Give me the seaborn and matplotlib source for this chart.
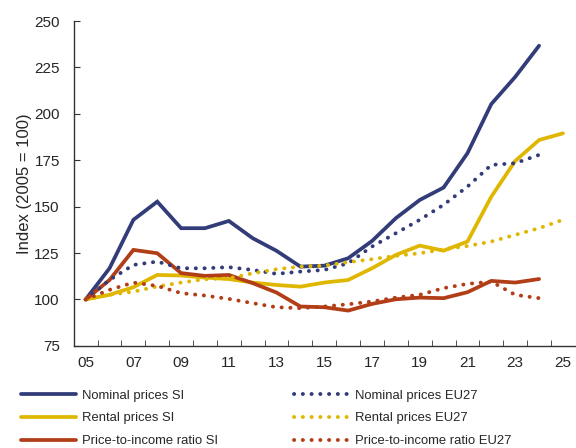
import matplotlib

matplotlib.use("Agg")
import matplotlib.pyplot as plt
import numpy as np
import pandas as pd
import seaborn as sns

years = list(range(2005, 2026))

nominal_si = [100, 116.8, 142.9, 152.7, 138.4, 138.4, 142.3, 133, 126.2, 117.7,
              118.2, 122.2, 131.5, 143.8, 153.6, 160.3, 178.8, 205.3, 219.9, 236.7, None]
rental_si = [100, 102.5, 106.6, 113.2, 112.9, 111.8, 111, 109.1, 107.8, 106.9,
             109.1, 110.5, 116.8, 124, 129, 126.3, 131.2, 155.4, 174.6, 185.9, 189.5]
pti_si = [100, 110.5, 126.7, 124.9, 114.2, 112.7, 113.2, 108.8, 103.7, 96.2,
          95.8, 94, 97.6, 100.1, 101, 100.7, 103.9, 110, 109.1, 111, None]
nominal_eu = [100, 110.5, 118.6, 120.4, 116.8, 116.8, 117.4, 115.9, 113.8, 115,
              115.9, 119.5, 128.5, 135.7, 142.9, 151, 160.8, 172.5, 173.4, 177.9, None]
rental_eu = [100, 102.5, 104.2, 107, 109.1, 110.9, 111.4, 114.1, 116.3, 117.7,
             118.2, 120.1, 121.7, 123.5, 124.9, 127, 128.8, 131.2, 134.8, 138.4, 142.9]
pti_eu = [100, 105.2, 109.1, 107.3, 103.4, 102.1, 100.3, 98, 95.8, 95.3,
          96.2, 97.4, 98.9, 101, 102.5, 106.1, 108.4, 109.6, 102.5, 100.7, None]

series = [
    ("Nominal prices SI", nominal_si, "#323C78", "solid"),
    ("Rental prices SI", rental_si, "#E0B700", "solid"),
    ("Price-to-income ratio SI", pti_si, "#B23E18", "solid"),
    ("Nominal prices EU27", nominal_eu, "#323C78", "dotted"),
    ("Rental prices EU27", rental_eu, "#E0B700", "dotted"),
    ("Price-to-income ratio EU27", pti_eu, "#B23E18", "dotted"),
]

sns.set_style("ticks")
plt.rcParams["font.family"] = ["Liberation Sans", "DejaVu Sans"]

fig = plt.figure(figsize=(5.76, 4.48), dpi=100)
ax = fig.add_axes([0.128, 0.228, 0.87, 0.725])

for label, values, color, kind in series:
    df = pd.DataFrame({"year": years, "value": np.array(values, dtype=float)}).dropna()
    if kind == "solid":
        sns.lineplot(data=df, x="year", y="value", color=color, lw=2.7,
                     label=label, ax=ax, solid_joinstyle="miter")
    else:
        sns.lineplot(data=df, x="year", y="value", color=color, lw=2.8,
                     label=label, ax=ax, linestyle=(0, (0.05, 2.2)),
                     dash_capstyle="round")

ax.set_xlim(2004.5, 2025.5)
ax.set_ylim(75, 250)
ax.set_yticks(np.arange(75, 251, 25))
ax.set_xticks(years[::2])
ax.set_xticklabels([f"{y % 100:02d}" for y in years[::2]])
ax.set_xticks(np.arange(2005.5, 2025, 1), minor=True)
ax.tick_params(axis="x", which="major", length=0, labelsize=11, pad=7)
ax.tick_params(axis="x", which="minor", length=4, direction="in", color="#333333")
ax.tick_params(axis="y", length=4, direction="in", labelsize=11, pad=10, color="#333333")
ax.set_xlabel("")
ax.set_ylabel("Index (2005 = 100)", fontsize=12, labelpad=2)
sns.despine(ax=ax)
for s in ("left", "bottom"):
    ax.spines[s].set_color("#333333")
    ax.spines[s].set_linewidth(1.0)

handles, labels = ax.get_legend_handles_labels()
ax.get_legend().remove()
fig.legend(handles, labels, ncol=2, loc="lower left", bbox_to_anchor=(0.016, -0.025),
           frameon=False, fontsize=9.4, handlelength=4.2, handletextpad=0.5,
           columnspacing=5.8, labelspacing=0.83)

fig.savefig("out.png", dpi=100)
